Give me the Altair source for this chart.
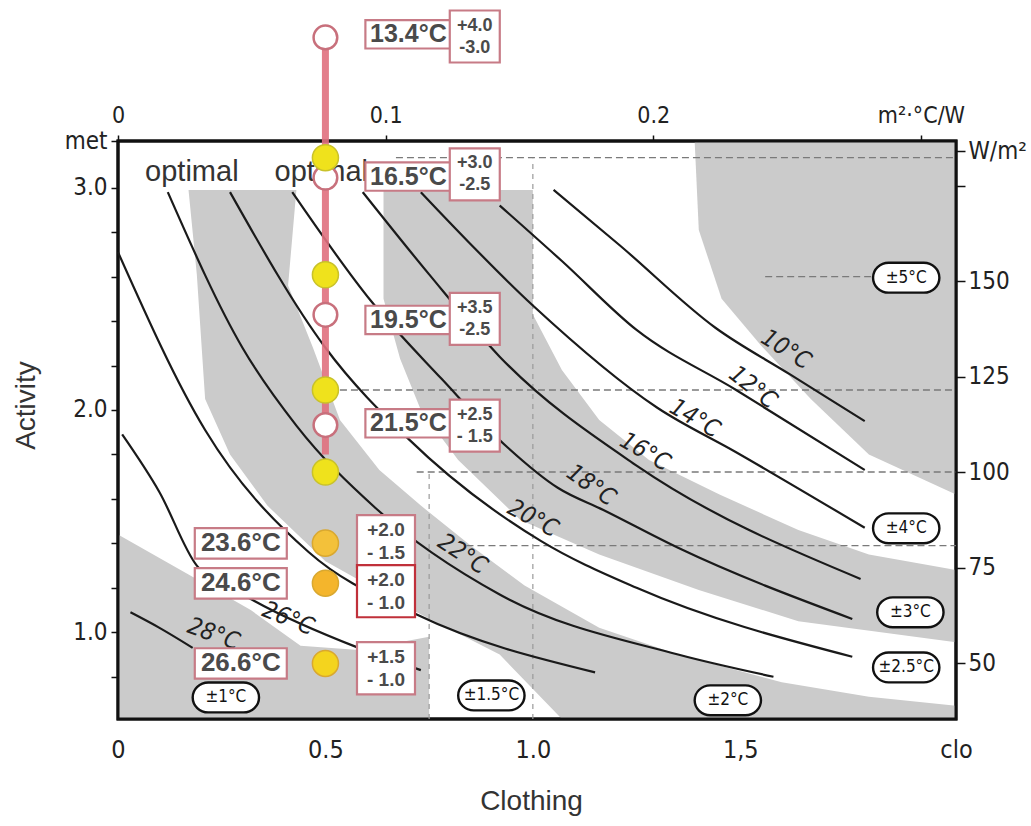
import altair as alt
import pandas as pd

# ---------------- scales / unit conversions ----------------
X_DOMAIN = [0.0, 2.02]          # clo
Y_DOMAIN = [0.61, 3.21]         # met
CLO_M2KW = 0.155                # 1 clo = 0.155 m2.K/W
MET_WM2 = 58.15                 # 1 met = 58.15 W/m2

# ---------------- optimal operative temperature curves ----------------
t10_clo = [1.05, 1.21, 1.44, 1.62, 1.80]
t10_met = [2.99, 2.74, 2.37, 2.16, 1.95]
t12_clo = [0.92, 1.07, 1.25, 1.49, 1.80]
t12_met = [2.92, 2.67, 2.36, 2.09, 1.73]
t14_clo = [0.73, 1.00, 1.30, 1.49, 1.80]
t14_met = [2.98, 2.47, 2.01, 1.81, 1.47]
t16_clo = [0.59, 0.75, 0.92, 1.25, 1.79]
t16_met = [2.98, 2.61, 2.24, 1.75, 1.24]
t18_clo = [0.42, 0.61, 0.78, 0.94, 1.06, 1.17, 1.35, 1.77]
t18_met = [2.98, 2.49, 2.14, 1.83, 1.65, 1.55, 1.38, 1.06]
t20_clo = [0.27, 0.50, 0.70, 1.02, 1.25, 1.77]
t20_met = [2.98, 2.28, 1.87, 1.41, 1.20, 0.89]
t22_clo = [0.12, 0.30, 0.43, 0.62, 0.92, 1.35, 1.58]
t22_met = [2.98, 2.28, 1.93, 1.56, 1.17, 0.90, 0.80]
t24_clo = [0.00, 0.21, 0.46, 0.72, 1.15]
t24_met = [2.71, 1.91, 1.36, 1.08, 0.82]
t26_clo = [0.01, 0.10, 0.19, 0.33, 0.58, 0.73]
t26_met = [1.89, 1.63, 1.30, 1.14, 0.93, 0.83]
t28_clo = [0.03, 0.10, 0.18]
t28_met = [1.09, 1.02, 0.93]

curve_labels = ["10°C", "12°C", "14°C", "16°C", "18°C", "20°C", "22°C", "26°C", "28°C"]
curve_label_clo = [1.61, 1.53, 1.39, 1.27, 1.14, 1.00, 0.83, 0.41, 0.23]
curve_label_met = [2.27, 2.10, 1.96, 1.81, 1.66, 1.51, 1.35, 1.06, 0.99]
curve_label_angle = [32, 38, 30, 30, 35, 28, 33, 22, 20]

# ---------------- tolerance zones (shaded) ----------------
zone1_clo = [0.00, 0.17, 0.32, 0.44, 0.58, 0.75, 0.75, 0.00]
zone1_met = [1.44, 1.26, 1.10, 0.94, 0.92, 0.98, 0.61, 0.61]
zone2_clo = [0.17, 0.43, 0.41, 0.47, 0.535, 0.63, 0.73, 0.85, 0.98, 1.16, 1.35, 1.60, 1.81, 2.02,
             2.02, 1.07, 0.92, 0.72, 0.50, 0.36, 0.27, 0.21, 0.19]
zone2_met = [2.99, 2.99, 2.56, 2.28, 1.955, 1.73, 1.57, 1.39, 1.21, 1.02, 0.90, 0.775, 0.71, 0.67,
             0.61, 0.61, 0.90, 1.09, 1.32, 1.57, 1.80, 2.05, 2.61]
zone3_clo = [0.64, 1.00, 1.00, 1.07, 1.16, 1.28, 1.45, 1.64, 1.81, 2.02,
             2.02, 1.64, 1.40, 1.16, 0.97, 0.82, 0.73, 0.68, 0.64]
zone3_met = [2.99, 2.99, 2.43, 2.18, 1.955, 1.775, 1.62, 1.46, 1.35, 1.28,
             0.955, 1.05, 1.19, 1.35, 1.505, 1.775, 2.00, 2.23, 2.50]
zone4_clo = [1.39, 2.02, 2.02, 1.81, 1.67, 1.55, 1.455, 1.40]
zone4_met = [3.21, 3.21, 1.62, 1.80, 2.05, 2.29, 2.50, 2.81]

tol_zone_text = ["±1°C", "±1.5°C", "±2°C", "±2.5°C", "±3°C", "±4°C", "±5°C"]
tol_zone_clo = [0.26, 0.90, 1.47, 1.90, 1.91, 1.90, 1.90]
tol_zone_met = [0.707, 0.716, 0.694, 0.842, 1.09, 1.468, 2.595]

# ---------------- reference lines ----------------
href_met = [3.135, 2.09, 1.721, 1.39, 2.60]
href_clo0 = [0.67, 0.535, 0.72, 0.84, 1.56]
href_clo1 = [2.02, 2.02, 2.02, 2.02, 1.85]
vref_clo = [0.75, 1.0]
vref_met0 = [0.61, 0.61]
vref_met1 = [1.72, 3.13]

# ---------------- measured points at 0.5 clo ----------------
dot_clo = 0.5
white_dot_met = [3.676, 3.045, 2.428, 1.932]
yellow_dot_met = [3.135, 2.608, 2.09, 1.721]
orange_dot_met = [1.401, 1.221, 0.860]
orange_dot_fill = ["#f3c13a", "#f4b52c", "#f4d41e"]
red_line_met = [3.676, 1.80]

temp_top_text = ["13.4°C", "16.5°C", "19.5°C", "21.5°C"]
temp_top_met = [3.69, 3.05, 2.405, 1.94]
temp_top_clo = 0.70
tol_top_text = ["+4.0\n-3.0", "+3.0\n-2.5", "+3.5\n-2.5", "+2.5\n- 1.5"]
tol_top_met = [3.68, 3.06, 2.41, 1.93]
tol_top_clo = 0.86

temp_bot_text = ["23.6°C", "24.6°C", "26.6°C"]
temp_bot_met = [1.40, 1.22, 0.86]
temp_bot_clo = 0.296
tol_bot_text = ["+2.0\n- 1.5", "+2.0\n- 1.0", "+1.5\n- 1.0"]
tol_bot_met = [1.41, 1.185, 0.838]
tol_bot_clo = 0.646
tol_bot_stroke = ["#c77b86", "#c0303a", "#c77b86"]

optimal_clo = [0.178, 0.49]
optimal_met = [3.07, 3.07]

# axis tick definitions
bottom_vals = [0.0, 0.5, 1.0, 1.5, 2.02]
left_vals = [0.8, 1.0, 1.2, 1.4, 1.6, 1.8, 2.0, 2.2, 2.4, 2.6, 2.8, 3.0, 3.21]
top_vals_m2kw = [0.0, 0.1, 0.2, 0.3]
right_vals_wm2 = [50, 75, 100, 125, 150, 175, 184]

# ---------------- build tables ----------------
curves = [("10", t10_clo, t10_met), ("12", t12_clo, t12_met), ("14", t14_clo, t14_met),
          ("16", t16_clo, t16_met), ("18", t18_clo, t18_met), ("20", t20_clo, t20_met),
          ("22", t22_clo, t22_met), ("24", t24_clo, t24_met), ("26", t26_clo, t26_met),
          ("28", t28_clo, t28_met)]
curve_df = pd.DataFrame([{"curve": n, "i": i, "clo": c, "met": m}
                         for n, cs, ms in curves for i, (c, m) in enumerate(zip(cs, ms))])

zones = [("z1", zone1_clo, zone1_met), ("z2", zone2_clo, zone2_met),
         ("z3", zone3_clo, zone3_met), ("z4", zone4_clo, zone4_met)]
zone_df = pd.DataFrame([{"zone": n, "i": i, "clo": c, "met": m}
                        for n, cs, ms in zones for i, (c, m) in enumerate(zip(cs, ms))])

FONT = "Liberation Sans, Arial, sans-serif"
NARROW = "Liberation Sans Narrow, DejaVu Sans Condensed, sans-serif"
PINK = "#c77b86"
TXT = "#4a4a4a"

xs = alt.Scale(domain=X_DOMAIN, nice=False, zero=False)
ys = alt.Scale(domain=Y_DOMAIN, nice=False, zero=False)


def X(f="clo"):
    return alt.X(f"{f}:Q", scale=xs, axis=None)


def Y(f="met"):
    return alt.Y(f"{f}:Q", scale=ys, axis=None)


layers = []

# shaded zones
layers.append(alt.Chart(zone_df).mark_line(strokeWidth=0).encode(
    x=X(), y=Y(), detail="zone:N", order="i:Q", fill=alt.value("#cbcbcb")))

# plot frame (drawn over the shading)
frame_df = pd.DataFrame({"x0": [X_DOMAIN[0]], "x1": [X_DOMAIN[1]], "y0": [Y_DOMAIN[0]], "y1": [Y_DOMAIN[1]]})
layers.append(alt.Chart(frame_df).mark_rect(fillOpacity=0, stroke="#111", strokeWidth=3).encode(
    x=X("x0"), x2="x1:Q", y=Y("y0"), y2="y1:Q"))

# reference dashed lines
href_df = pd.DataFrame({"met": href_met, "c0": href_clo0, "c1": href_clo1})
layers.append(alt.Chart(href_df).mark_rule(color="#7a7a7a", strokeWidth=1.3, strokeDash=[7, 4]).encode(
    x=X("c0"), x2="c1:Q", y=Y()))
vref_df = pd.DataFrame({"clo": vref_clo, "m0": vref_met0, "m1": vref_met1})
layers.append(alt.Chart(vref_df).mark_rule(color="#9a9a9a", strokeWidth=1.2, strokeDash=[5, 5]).encode(
    x=X(), y=Y("m0"), y2="m1:Q"))

# temperature curves
layers.append(alt.Chart(curve_df).mark_line(color="#1a1a1a", strokeWidth=2.2, interpolate="monotone").encode(
    x=X(), y=Y(), detail="curve:N", order="i:Q"))

# curve labels
for t, c, m, a in zip(curve_labels, curve_label_clo, curve_label_met, curve_label_angle):
    layers.append(alt.Chart(pd.DataFrame({"clo": [c], "met": [m], "t": [t]})).mark_text(
        font=NARROW, fontSize=24, fontStyle="italic", color="#222", angle=a).encode(
        x=X(), y=Y(), text="t:N"))

# tolerance capsules
capsule = ("M-0.53,-0.45 H0.53 C0.79,-0.45 1,-0.25 1,0 C1,0.25 0.79,0.45 0.53,0.45 "
           "H-0.53 C-0.79,0.45 -1,0.25 -1,0 C-1,-0.25 -0.79,-0.45 -0.53,-0.45 Z")
tz_df = pd.DataFrame({"clo": tol_zone_clo, "met": tol_zone_met, "t": tol_zone_text})
layers.append(alt.Chart(tz_df).mark_point(shape=capsule, size=4400, filled=True, fill="white",
                                          stroke="#111", strokeWidth=2.4, opacity=1).encode(x=X(), y=Y()))
layers.append(alt.Chart(tz_df).mark_text(font=NARROW, fontSize=17, color="#111").encode(
    x=X(), y=Y(), text="t:N"))

# "optimal" texts
layers.append(alt.Chart(pd.DataFrame({"clo": optimal_clo, "met": optimal_met, "t": ["optimal", "optimal"]}))
              .mark_text(font=FONT, fontSize=29, color="#333").encode(x=X(), y=Y(), text="t:N"))

# red connecting line
layers.append(alt.Chart(pd.DataFrame({"clo": [dot_clo], "m0": [red_line_met[0]], "m1": [red_line_met[1]]}))
              .mark_rule(color="#e0707e", strokeWidth=7, opacity=0.9).encode(x=X(), y=Y("m0"), y2="m1:Q"))

# dots
layers.append(alt.Chart(pd.DataFrame({"clo": [dot_clo] * len(white_dot_met), "met": white_dot_met}))
              .mark_point(shape="circle", size=560, filled=True, fill="white", stroke="#c8707c",
                          strokeWidth=2.5, opacity=1).encode(x=X(), y=Y()))
layers.append(alt.Chart(pd.DataFrame({"clo": [dot_clo] * len(yellow_dot_met), "met": yellow_dot_met}))
              .mark_point(shape="circle", size=680, filled=True, fill="#efe21c", stroke="#c9c22a",
                          strokeWidth=1.5, opacity=1).encode(x=X(), y=Y()))
layers.append(alt.Chart(pd.DataFrame({"clo": [dot_clo] * len(orange_dot_met), "met": orange_dot_met,
                                      "f": orange_dot_fill}))
              .mark_point(shape="circle", size=680, filled=True, stroke="#d9a830", strokeWidth=1.5, opacity=1)
              .encode(x=X(), y=Y(), fill=alt.Fill("f:N", scale=None)))

# label boxes
box_top = "M-1,-0.33 H1 V0.33 H-1 Z"
box_tol = "M-1,-1.04 H1 V1.04 H-1 Z"
box_tol_b = "M-1,-0.9 H1 V0.9 H-1 Z"
tt_df = pd.DataFrame({"clo": [temp_top_clo] * 4, "met": temp_top_met, "t": temp_top_text})
layers.append(alt.Chart(tt_df).mark_point(shape=box_top, size=86 ** 2, filled=True, fill="white",
                                          stroke=PINK, strokeWidth=2.2, opacity=1).encode(x=X(), y=Y()))
layers.append(alt.Chart(tt_df).mark_text(font=FONT, fontSize=25, fontWeight="bold", color=TXT).encode(
    x=X(), y=Y(), text="t:N"))
lt_df = pd.DataFrame({"clo": [tol_top_clo] * 4, "met": tol_top_met, "t": tol_top_text})
layers.append(alt.Chart(lt_df).mark_point(shape=box_tol, size=50 ** 2, filled=True, fill="white",
                                          stroke=PINK, strokeWidth=2.2, opacity=1).encode(x=X(), y=Y()))
layers.append(alt.Chart(lt_df).mark_text(font=FONT, fontSize=18, fontWeight="bold", color=TXT,
                                         lineBreak="\n", lineHeight=22, dy=-11).encode(
    x=X(), y=Y(), text="t:N"))
tb_df = pd.DataFrame({"clo": [temp_bot_clo] * 3, "met": temp_bot_met, "t": temp_bot_text})
layers.append(alt.Chart(tb_df).mark_point(shape=box_top, size=92 ** 2, filled=True, fill="white",
                                          stroke=PINK, strokeWidth=2.2, opacity=1).encode(x=X(), y=Y()))
layers.append(alt.Chart(tb_df).mark_text(font=FONT, fontSize=26, fontWeight="bold", color=TXT).encode(
    x=X(), y=Y(), text="t:N"))
lb_df = pd.DataFrame({"clo": [tol_bot_clo] * 3, "met": tol_bot_met, "t": tol_bot_text, "s": tol_bot_stroke})
layers.append(alt.Chart(lb_df).mark_point(shape=box_tol_b, size=58 ** 2, filled=True, fill="white",
                                          strokeWidth=2.2, opacity=1).encode(
    x=X(), y=Y(), stroke=alt.Stroke("s:N", scale=None)))
layers.append(alt.Chart(lb_df).mark_text(font=FONT, fontSize=19, fontWeight="bold", color=TXT,
                                         lineBreak="\n", lineHeight=23, dy=-11).encode(
    x=X(), y=Y(), text="t:N"))

# ---------------- axes (invisible carrier layers) ----------------
axis_df = pd.DataFrame({"clo": [0.5], "met": [2.0]})
top_vals = [v / CLO_M2KW for v in top_vals_m2kw]
right_vals = [w / MET_WM2 for w in right_vals_wm2]

bottom_axis = alt.Axis(orient="bottom", values=bottom_vals, ticks=False, domain=False, grid=False,
                       labelExpr="datum.value > 2 ? 'clo' : (datum.value == 1.5 ? '1,5' : "
                                 "(datum.value == 0 ? '0' : format(datum.value, '.1f')))",
                       labelFont=NARROW, labelFontSize=25, labelColor="#222", labelPadding=18,
                       labelFlush=False, labelOverlap=False,
                       title="Clothing", titleFont=FONT, titleFontSize=28, titleFontWeight="normal",
                       titleColor="#333", titleX=413, titleY=90, titleAlign="center",
                       titleBaseline="alphabetic")
left_axis = alt.Axis(orient="left", values=left_vals, domain=False, grid=False, tickSize=7,
                     tickWidth=1.5, tickColor="#111",
                     labelExpr="datum.value > 3.1 ? 'met' : (abs(datum.value - round(datum.value)) < 0.01 ? "
                               "format(datum.value, '.1f') : '')",
                     labelFont=NARROW, labelFontSize=24, labelColor="#222", labelPadding=4,
                     labelFlush=False, labelOverlap=False,
                     title="Activity", titleFont=FONT, titleFontSize=28, titleFontWeight="normal",
                     titleColor="#333", titleX=-84, titleY=264, titleAngle=-90, titleAlign="center",
                     titleBaseline="alphabetic")
top_axis = alt.Axis(orient="top", values=top_vals, domain=False, grid=False, tickSize=6, tickWidth=1.5,
                    tickColor="#111",
                    labelExpr="datum.value > 1.9 ? 'm²·°C/W' : (datum.value < 0.01 ? '0' : "
                              "format(datum.value * 0.155, '.1f'))",
                    labelFont=NARROW, labelFontSize=23, labelColor="#222", labelPadding=8,
                    labelFlush=False, labelOverlap=False, title=None)
right_axis = alt.Axis(orient="right", values=right_vals, domain=False, grid=False, tickSize=9, tickWidth=1.5,
                      tickColor="#111",
                      labelExpr="datum.value > 3.1 ? 'W/m²' : (datum.value > 2.9 ? '' : "
                                "format(round(datum.value * 58.15), 'd'))",
                      labelFont=NARROW, labelFontSize=24, labelColor="#222", labelPadding=3,
                      labelFlush=False, labelOverlap=False, title=None)

layers.append(alt.Chart(axis_df).mark_point(opacity=0).encode(
    x=alt.X("clo:Q", scale=xs, axis=bottom_axis), y=alt.Y("met:Q", scale=ys, axis=left_axis)))
layers.append(alt.Chart(axis_df).mark_point(opacity=0).encode(
    x=alt.X("clo:Q", scale=xs, axis=top_axis), y=alt.Y("met:Q", scale=ys, axis=right_axis)))

chart = (alt.layer(*layers)
         .resolve_axis(x="independent", y="independent")
         .properties(width=838, height=578, background="white",
                     padding={"left": 118, "top": 141, "right": 75, "bottom": 107},
                     autosize=alt.AutoSizeParams(type="none"))
         .configure_view(stroke="#111", strokeWidth=3))

chart.save("out.html", embed_options={"renderer": "svg", "actions": False})
